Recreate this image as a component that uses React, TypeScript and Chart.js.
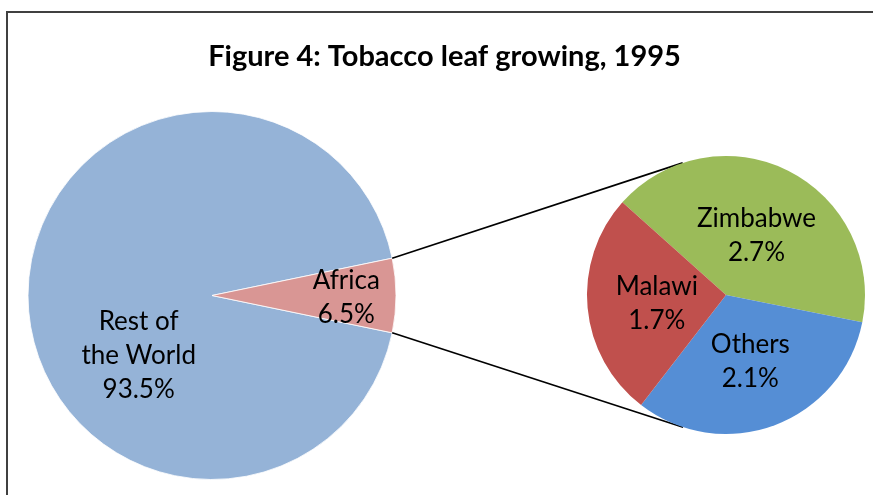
import React, { useEffect, useRef } from "react";
import { Chart, registerables } from "chart.js";

Chart.register(...registerables);

const titleText = "Figure 4: Tobacco leaf growing, 1995";

const mainCategories = ["Rest of the World", "Africa"];
const mainLabelLines = [["Rest of", "the World"], ["Africa"]];
const mainValues = [93.5, 6.5];
const mainColors = ["#95B3D7", "#D99694"];
const mainLabelRadius = [0.51, 0.73];
const mainLabelAngleShift = [-38.6, 0];

const subCategories = ["Zimbabwe", "Others", "Malawi"];
const subValues = [2.7, 2.1, 1.7];
const subColors = ["#9BBB59", "#558ED5", "#C0504D"];
const subLabelRadius = [0.49, 0.5, 0.5];
const subStartAngle = -138.2;

const FONT = "Lato, 'Open Sans', sans-serif";
const W = 873;
const H = 495;

function drawLabels(chart: any, lines: string[][], values: number[], radius: number[], shift: number[]) {
  const ctx = chart.ctx;
  const meta = chart.getDatasetMeta(0);
  ctx.save();
  ctx.fillStyle = "#000";
  ctx.font = `26px ${FONT}`;
  ctx.textAlign = "center";
  ctx.textBaseline = "middle";
  meta.data.forEach((arc: any, i: number) => {
    const p = arc.getProps(["x", "y", "startAngle", "endAngle", "outerRadius"], true);
    const mid = (p.startAngle + p.endAngle) / 2 + (shift[i] * Math.PI) / 180;
    const r = p.outerRadius * radius[i];
    const cx = p.x + Math.cos(mid) * r;
    const cy = p.y + Math.sin(mid) * r + 2;
    const all = [...lines[i], values[i].toFixed(1) + "%"];
    const lh = 34;
    all.forEach((t, k) => {
      ctx.fillText(t, cx, cy + (k - (all.length - 1) / 2) * lh);
    });
  });
  ctx.restore();
}

export default function App() {
  const mainRef = useRef<HTMLCanvasElement | null>(null);
  const subRef = useRef<HTMLCanvasElement | null>(null);

  useEffect(() => {
    const total = mainValues.reduce((a, b) => a + b, 0);
    const africaDeg = (mainValues[1] / total) * 360;

    const mainChart = new Chart(mainRef.current as HTMLCanvasElement, {
      type: "pie",
      data: {
        labels: mainCategories,
        datasets: [
          {
            data: mainValues,
            backgroundColor: mainColors,
            borderColor: "rgba(255,255,255,0.8)",
            borderWidth: 1,
          },
        ],
      },
      options: {
        responsive: false,
        animation: false,
        rotation: 90 + africaDeg / 2,
        layout: { padding: { left: 26, right: 475, top: 111, bottom: 15 } },
        plugins: { legend: { display: false }, tooltip: { enabled: false }, title: { display: false } },
      },
      plugins: [
        {
          id: "mainDecor",
          afterDatasetsDraw(chart: any) {
            drawLabels(chart, mainLabelLines, mainValues, mainLabelRadius, mainLabelAngleShift);
            const ctx = chart.ctx;
            ctx.save();
            ctx.fillStyle = "#000";
            ctx.font = `bold 29px ${FONT}`;
            ctx.textAlign = "center";
            ctx.textBaseline = "alphabetic";
            ctx.fillText(titleText, 444.5, 66);
            ctx.restore();
          },
        },
      ],
    } as any);

    const subChart = new Chart(subRef.current as HTMLCanvasElement, {
      type: "pie",
      data: {
        labels: subCategories,
        datasets: [
          {
            data: subValues,
            backgroundColor: subColors,
            borderWidth: 0,
          },
        ],
      },
      options: {
        responsive: false,
        animation: false,
        rotation: subStartAngle + 90,
        layout: { padding: { left: 586, right: 7, top: 156, bottom: 61 } },
        plugins: { legend: { display: false }, tooltip: { enabled: false }, title: { display: false } },
      },
      plugins: [
        {
          id: "connectors",
          beforeDatasetsDraw(chart: any) {
            const big = mainChart.getDatasetMeta(0).data[1] as any;
            const bp = big.getProps(["x", "y", "startAngle", "endAngle", "outerRadius"], true);
            const small = chart.getDatasetMeta(0).data[0] as any;
            const sp = small.getProps(["x", "y", "outerRadius"], true);
            const ctx = chart.ctx;
            const ends = [
              { a: bp.startAngle, sign: 1 },
              { a: bp.endAngle, sign: -1 },
            ];
            ctx.save();
            ctx.strokeStyle = "#000";
            ctx.lineWidth = 1.7;
            ends.forEach((e) => {
              const px = bp.x + Math.cos(e.a) * bp.outerRadius;
              const py = bp.y + Math.sin(e.a) * bp.outerRadius;
              const dx = px - sp.x;
              const dy = py - sp.y;
              const d = Math.sqrt(dx * dx + dy * dy);
              const base = Math.atan2(dy, dx);
              const t = base + e.sign * Math.acos(sp.outerRadius / d);
              const tx = sp.x + Math.cos(t) * sp.outerRadius;
              const ty = sp.y + Math.sin(t) * sp.outerRadius;
              ctx.beginPath();
              ctx.moveTo(px, py);
              ctx.lineTo(tx, ty);
              ctx.stroke();
            });
            ctx.restore();
          },
          afterDatasetsDraw(chart: any) {
            drawLabels(chart, subCategories.map((c) => [c]), subValues, subLabelRadius, [0, 0, 0]);
          },
        },
      ],
    } as any);

    return () => {
      subChart.destroy();
      mainChart.destroy();
    };
  }, []);

  return (
    <div style={{ position: "absolute", left: 0, top: 0, width: W, height: H, overflow: "hidden", background: "#fff" }}>
      <div
        style={{
          position: "absolute",
          left: 6,
          top: 11,
          width: 920,
          height: 540,
          border: "2px solid #404040",
          boxSizing: "border-box",
        }}
      />
      <canvas ref={mainRef} width={W} height={H} style={{ position: "absolute", left: 0, top: 0 }} />
      <canvas ref={subRef} width={W} height={H} style={{ position: "absolute", left: 0, top: 0 }} />
    </div>
  );
}
